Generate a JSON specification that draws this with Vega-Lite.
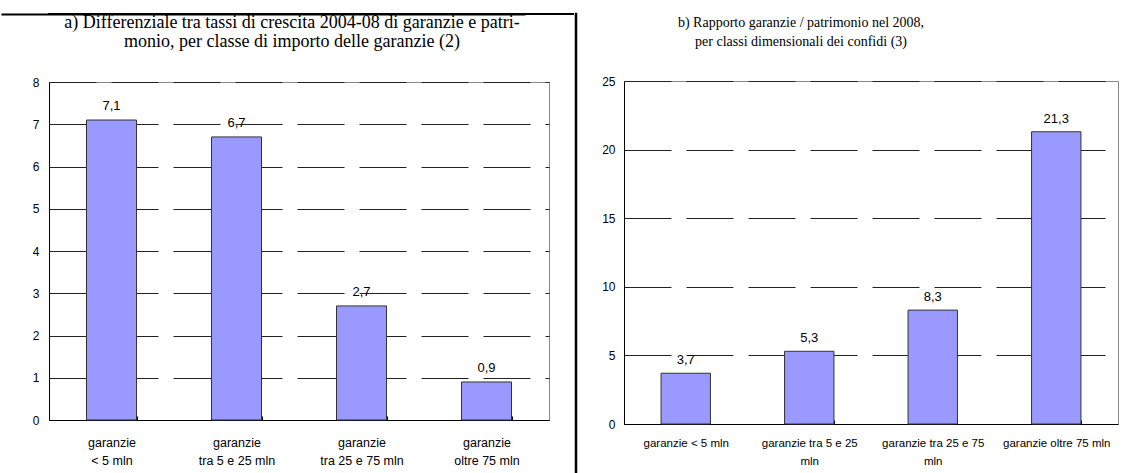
{
  "$schema": "https://vega.github.io/schema/vega-lite/v6.json",
  "background": "white",
  "padding": {"left": 0, "top": 12, "right": 0, "bottom": 0},
  "config": {
    "locale": {"number": {"decimal": ",", "thousands": ".", "grouping": [3], "currency": ["", " €"]}},
    "font": "Liberation Sans",
    "view": {"stroke": "#888", "strokeWidth": 1},
    "title": {"font": "Liberation Serif", "fontSize": 16, "fontWeight": "normal", "color": "#000", "lineHeight": 19, "anchor": "middle", "orient": "bottom", "offset": 2},
    "axis": {"labelFont": "Liberation Sans", "labelColor": "#000", "domainColor": "#000", "tickColor": "#000", "title": null}
  },
  "spacing": 0,
  "hconcat": [
    {
      "spacing": 22,
      "vconcat": [
        {
          "width": 524,
          "height": 0.01,
          "view": {"stroke": "#000", "strokeWidth": 2},
          "title": {"text": ["a) Differenziale tra tassi di crescita 2004-08 di garanzie e patri-", "monio, per classe di importo delle garanzie (2)"], "dx": -19, "fontSize": 18, "offset": 0},
          "data": {"values": []},
          "mark": "rect",
          "encoding": {
            "x": {"field": "t", "type": "quantitative",
              "scale": {"domain": [0, 1], "range": [-48, 476]},
              "axis": {"orient": "top", "domainWidth": 2, "domainColor": "#000", "labels": false, "ticks": false, "grid": false}}
          }
        },
        {
          "spacing": 0,
          "hconcat": [
            {
              "width": 500,
              "height": 338,
              "data": {"values": [
                {"classe": "garanzie|< 5 mln", "valore": 7.1},
                {"classe": "garanzie|tra 5 e 25 mln", "valore": 6.7},
                {"classe": "garanzie|tra 25 e 75 mln", "valore": 2.7},
                {"classe": "garanzie|oltre 75 mln", "valore": 0.9}
              ]},
              "encoding": {
                "x": {"field": "classe", "type": "nominal", "sort": null,
                  "scale": {"paddingInner": 0.6, "paddingOuter": 0.3},
                  "axis": {"labelAngle": 0, "labelExpr": "split(datum.label, '|')", "labelFontSize": 12.5, "labelLineHeight": 18, "labelPadding": 20, "tickBand": "extent", "tickSize": -4, "domainWidth": 1}},
                "y": {"field": "valore", "type": "quantitative",
                  "scale": {"domain": [0, 8], "nice": false},
                  "axis": {"values": [0, 1, 2, 3, 4, 5, 6, 7, 8], "grid": true, "gridDash": [47, 15], "gridColor": "#222", "gridWidth": 1, "ticks": false, "labelFontSize": 12, "labelPadding": 10, "minExtent": 48, "labelBaseline": "middle"}}
              },
              "layer": [
                {"mark": {"type": "bar", "fill": "#9999FF", "stroke": "#333", "strokeWidth": 1}},
                {"mark": {"type": "text", "baseline": "alphabetic", "dy": -10, "fontSize": 13, "color": "#000"},
                 "encoding": {"text": {"field": "valore", "type": "quantitative", "format": ".1f"}}}
              ]
            }
          ]
        }
      ]
    },
    {
      "width": 0.01,
      "height": 462,
      "view": {"stroke": "#000", "strokeWidth": 2.5},
      "data": {"values": []},
      "mark": "rect"
    },
    {
      "spacing": 24,
      "vconcat": [
        {
          "width": 494,
          "height": 0.01,
          "view": {"stroke": null},
          "title": {"text": ["b) Rapporto garanzie / patrimonio nel 2008,", "per classi dimensionali dei confidi (3)"], "dx": -70, "fontSize": 14},
          "data": {"values": []},
          "mark": "rect"
        },
        {
          "spacing": 0,
          "hconcat": [
            {
              "width": 494,
              "height": 343,
              "data": {"values": [
                {"classe": "garanzie < 5 mln", "valore": 3.7},
                {"classe": "garanzie tra 5 e 25|mln", "valore": 5.3},
                {"classe": "garanzie tra 25 e 75|mln", "valore": 8.3},
                {"classe": "garanzie oltre 75 mln", "valore": 21.3}
              ]},
              "encoding": {
                "x": {"field": "classe", "type": "nominal", "sort": null,
                  "scale": {"paddingInner": 0.6, "paddingOuter": 0.3},
                  "axis": {"labelAngle": 0, "labelExpr": "split(datum.label, '|')", "labelFontSize": 11.5, "labelLineHeight": 18, "labelPadding": 17, "tickBand": "extent", "tickSize": -4, "domainWidth": 1}},
                "y": {"field": "valore", "type": "quantitative",
                  "scale": {"domain": [0, 25], "nice": false},
                  "axis": {"values": [0, 5, 10, 15, 20, 25], "grid": true, "gridDash": [47, 15], "gridColor": "#222", "gridWidth": 1, "ticks": false, "labelFontSize": 12, "labelPadding": 9, "minExtent": 45, "labelBaseline": "middle"}}
              },
              "layer": [
                {"mark": {"type": "bar", "fill": "#9999FF", "stroke": "#333", "strokeWidth": 1}},
                {"mark": {"type": "text", "baseline": "alphabetic", "dy": -9, "fontSize": 13, "color": "#000"},
                 "encoding": {"text": {"field": "valore", "type": "quantitative", "format": ".1f"}}}
              ]
            }
          ]
        }
      ]
    }
  ]
}
